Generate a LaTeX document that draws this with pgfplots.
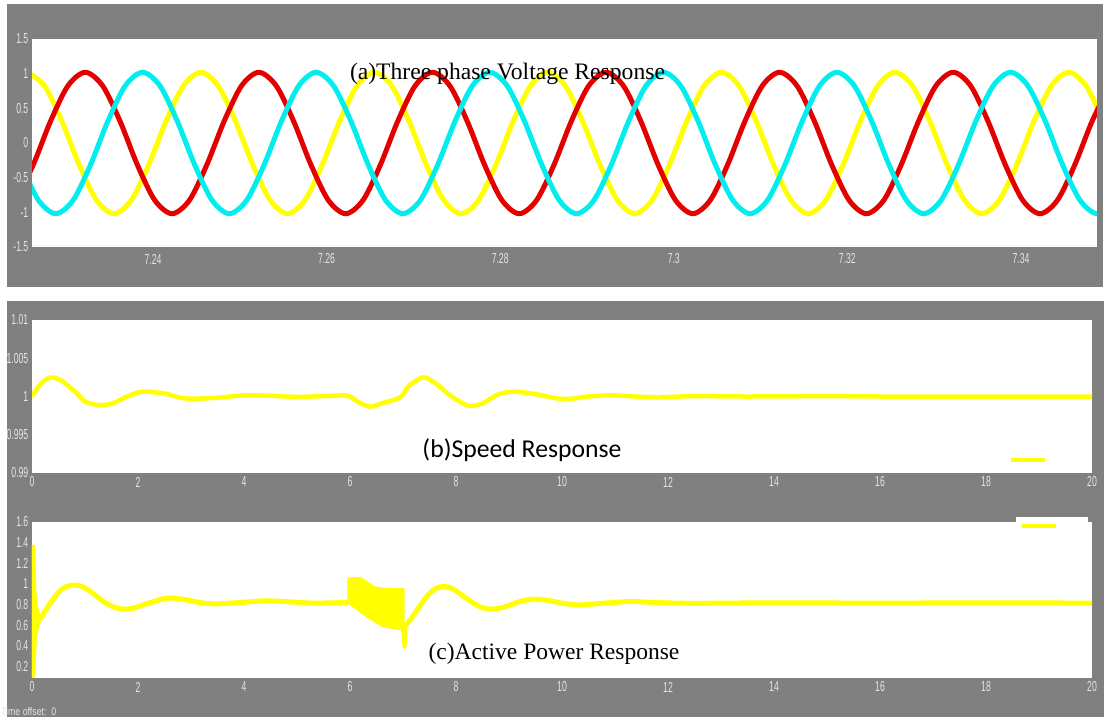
\documentclass[border=0pt]{standalone}
\usepackage{fontspec}
\setmainfont{Liberation Serif}
\newfontfamily\calibfont{Carlito}
\newfontfamily\tickfont[FakeStretch=0.6]{Liberation Sans}
\newfontfamily\offsetfont[FakeStretch=0.8]{Liberation Sans}
\usepackage{pgfplots}
\pgfplotsset{compat=1.18}
\definecolor{scopegray}{RGB}{128,128,128}
\definecolor{ticklab}{RGB}{228,228,228}
\definecolor{pyellow}{RGB}{255,255,0}
\definecolor{pred}{RGB}{228,0,0}
\definecolor{pcyan}{RGB}{0,238,238}
\pgfplotsset{
  scopeaxis/.style={
    scale only axis,
    anchor=north west,
    axis background/.style={fill=white},
    axis line style={draw=none},
    major tick length=0pt,
    tick style={draw=none},
    xticklabel style={font=\tickfont\fontsize{14.5}{15}\selectfont, text=ticklab, anchor=center, inner sep=0pt},
    yticklabel style={font=\tickfont\fontsize{14.5}{15}\selectfont, text=ticklab, anchor=east, inner sep=0pt, xshift=-3.5bp},
    clip=true,
  }
}
\begin{document}
\begin{tikzpicture}
\path[use as bounding box] (0bp,0bp) rectangle (1104bp,-717bp);
\fill[white] (0bp,0bp) rectangle (1104bp,-717bp);
\fill[scopegray] (7bp,-4bp) rectangle (1103bp,-287bp);
\fill[scopegray] (7bp,-301bp) rectangle (1104bp,-717bp);

% ---------- (a) three phase voltage ----------
\begin{axis}[scopeaxis,
  at={(32bp,-39bp)}, width=1065bp, height=208bp,
  xmin=7.22606, xmax=7.34876, ymin=-1.5, ymax=1.5,
  xtick={7.24,7.26,7.28,7.3,7.32,7.34},
  xticklabels={7.24,7.26,7.28,7.3,7.32,7.34},
  ytick={-1.5,-1,-0.5,0,0.5,1,1.5},
  yticklabels={-1.5,-1,-0.5,0,0.5,1,1.5},
  xticklabel style={yshift=-12bp},
]
\addplot[pyellow, line width=5bp, smooth, line join=round] coordinates {
(7.2255,1.02)(7.2275,.825)(7.2295,.315)(7.2315,-.315)(7.2335,-.825)(7.2355,-1.02)(7.2375,-.825)(7.2395,-.315)(7.2415,.315)(7.2435,.825)
(7.2455,1.02)(7.2475,.825)(7.2495,.315)(7.2515,-.315)(7.2535,-.825)(7.2555,-1.02)(7.2575,-.825)(7.2595,-.315)(7.2615,.315)(7.2635,.825)
(7.2655,1.02)(7.2675,.825)(7.2695,.315)(7.2715,-.315)(7.2735,-.825)(7.2755,-1.02)(7.2775,-.825)(7.2795,-.315)(7.2815,.315)(7.2835,.825)
(7.2855,1.02)(7.2875,.825)(7.2895,.315)(7.2915,-.315)(7.2935,-.825)(7.2955,-1.02)(7.2975,-.825)(7.2995,-.315)(7.3015,.315)(7.3035,.825)
(7.3055,1.02)(7.3075,.825)(7.3095,.315)(7.3115,-.315)(7.3135,-.825)(7.3155,-1.02)(7.3175,-.825)(7.3195,-.315)(7.3215,.315)(7.3235,.825)
(7.3255,1.02)(7.3275,.825)(7.3295,.315)(7.3315,-.315)(7.3335,-.825)(7.3355,-1.02)(7.3375,-.825)(7.3395,-.315)(7.3415,.315)(7.3435,.825)
(7.3455,1.02)(7.3475,.825)(7.3495,.315)
};
\addplot[pred, line width=5bp, smooth, line join=round] coordinates {
(7.2242,-.825)(7.2262,-.315)(7.2282,.315)(7.2302,.825)
(7.2322,1.02)(7.2342,.825)(7.2362,.315)(7.2382,-.315)(7.2402,-.825)(7.2422,-1.02)(7.2442,-.825)(7.2462,-.315)(7.2482,.315)(7.2502,.825)
(7.2522,1.02)(7.2542,.825)(7.2562,.315)(7.2582,-.315)(7.2602,-.825)(7.2622,-1.02)(7.2642,-.825)(7.2662,-.315)(7.2682,.315)(7.2702,.825)
(7.2722,1.02)(7.2742,.825)(7.2762,.315)(7.2782,-.315)(7.2802,-.825)(7.2822,-1.02)(7.2842,-.825)(7.2862,-.315)(7.2882,.315)(7.2902,.825)
(7.2922,1.02)(7.2942,.825)(7.2962,.315)(7.2982,-.315)(7.3002,-.825)(7.3022,-1.02)(7.3042,-.825)(7.3062,-.315)(7.3082,.315)(7.3102,.825)
(7.3122,1.02)(7.3142,.825)(7.3162,.315)(7.3182,-.315)(7.3202,-.825)(7.3222,-1.02)(7.3242,-.825)(7.3262,-.315)(7.3282,.315)(7.3302,.825)
(7.3322,1.02)(7.3342,.825)(7.3362,.315)(7.3382,-.315)(7.3402,-.825)(7.3422,-1.02)(7.3442,-.825)(7.3462,-.315)(7.3482,.315)(7.3502,.825)
};
\addplot[pcyan, line width=5bp, smooth, line join=round] coordinates {
(7.2248,-.315)(7.2268,-.825)(7.2288,-1.02)(7.2308,-.825)(7.2328,-.315)(7.2348,.315)(7.2368,.825)
(7.2388,1.02)(7.2408,.825)(7.2428,.315)(7.2448,-.315)(7.2468,-.825)(7.2488,-1.02)(7.2508,-.825)(7.2528,-.315)(7.2548,.315)(7.2568,.825)
(7.2588,1.02)(7.2608,.825)(7.2628,.315)(7.2648,-.315)(7.2668,-.825)(7.2688,-1.02)(7.2708,-.825)(7.2728,-.315)(7.2748,.315)(7.2768,.825)
(7.2788,1.02)(7.2808,.825)(7.2828,.315)(7.2848,-.315)(7.2868,-.825)(7.2888,-1.02)(7.2908,-.825)(7.2928,-.315)(7.2948,.315)(7.2968,.825)
(7.2988,1.02)(7.3008,.825)(7.3028,.315)(7.3048,-.315)(7.3068,-.825)(7.3088,-1.02)(7.3108,-.825)(7.3128,-.315)(7.3148,.315)(7.3168,.825)
(7.3188,1.02)(7.3208,.825)(7.3228,.315)(7.3248,-.315)(7.3268,-.825)(7.3288,-1.02)(7.3308,-.825)(7.3328,-.315)(7.3348,.315)(7.3368,.825)
(7.3388,1.02)(7.3408,.825)(7.3428,.315)(7.3448,-.315)(7.3468,-.825)(7.3488,-1.02)(7.3508,-.825)
};
\end{axis}

% ---------- (b) speed ----------
\begin{axis}[scopeaxis,
  at={(32bp,-320bp)}, width=1060bp, height=153bp,
  xmin=0, xmax=20, ymin=0.99, ymax=1.01,
  xtick={0,2,4,6,8,10,12,14,16,18,20},
  xticklabels={0,2,4,6,8,10,12,14,16,18,20},
  ytick={0.99,0.995,1,1.005,1.01},
  yticklabels={0.99,0.995,1,1.005,1.01},
  xticklabel style={yshift=-9bp},
  legend style={draw=none, fill=none, inner sep=0pt, at={(0.9217,0.085)}, anchor=west, nodes={inner sep=0pt}},
  legend image code/.code={\draw[pyellow, line width=4bp] (0bp,0bp) -- (34bp,0bp);},
]
\addplot[pyellow, line width=4.5bp, smooth, line join=round] coordinates {
(0,1.0)(0.1,1.0011)(0.2,1.0019)(0.3,1.00238)(0.4,1.00248)(0.55,1.0021)(0.7,1.0013)(0.85,1.0004)(1.0,0.99935)(1.25,0.99889)(1.5,0.99905)(1.75,0.99985)(2.0,1.00055)(2.17,1.00063)(2.5,1.0004)(2.8,0.99985)(3.05,0.99971)(3.5,0.99985)(4.0,1.00015)(4.5,1.0001)(5.0,0.99995)(5.5,1.00005)(5.95,1.0001)(6.15,0.9993)(6.38,0.99868)(6.64,0.9992)(6.95,0.9999)(7.1,1.0013)(7.37,1.0025)(7.6,1.0018)(7.9,1.0001)(8.23,0.9988)(8.5,0.9991)(8.8,1.0003)(9.12,1.00063)(9.5,1.0003)(10.03,0.99967)(10.5,1.0)(10.92,1.00015)(11.4,1.0)(11.82,0.9999)(12.5,1.00005)(13.5,1.0)(15,1.00005)(16,1.0)(17,1.0)(18,1.0)(20,1.0)
};
\addlegendentry{\mbox{}}
\end{axis}

% ---------- (c) active power ----------
\begin{axis}[scopeaxis,
  at={(32bp,-522bp)}, width=1060bp, height=156bp,
  xmin=0, xmax=20, ymin=0.09, ymax=1.6,
  xtick={0,2,4,6,8,10,12,14,16,18,20},
  xticklabels={0,2,4,6,8,10,12,14,16,18,20},
  ytick={0.2,0.4,0.6,0.8,1,1.2,1.4,1.6},
  yticklabels={0.2,0.4,0.6,0.8,1,1.2,1.4,1.6},
  xticklabel style={yshift=-9bp},
  legend style={draw=none, fill=white, inner sep=0pt, at={(0.9283,1.032)}, anchor=north west, nodes={inner sep=0pt}},
  legend image code/.code={\path[draw=none, fill=none] (0bp,-9bp) rectangle (71bp,9bp); \draw[pyellow, line width=4bp] (6bp,0bp) -- (40bp,0bp);},
]
\addplot[pyellow, line width=5bp, smooth, line join=round] coordinates {
(0.15,0.655)(0.3,0.78)(0.5,0.92)(0.65,0.975)(0.8,0.99)(0.95,0.975)(1.15,0.91)(1.35,0.83)(1.55,0.775)(1.72,0.757)(1.9,0.765)(2.2,0.815)(2.55,0.863)(2.85,0.852)(3.15,0.822)(3.43,0.808)(3.9,0.82)(4.43,0.837)(4.9,0.826)(5.3,0.815)(5.7,0.818)(5.97,0.82)
};
\addlegendentry{\mbox{}}
\addplot[pyellow, fill=pyellow, line width=2bp, line join=round, forget plot] coordinates {
(0,0.1)(0,1.37)(0.045,1.37)(0.055,1.05)(0.075,0.82)(0.165,0.66)(0.11,0.58)(0.07,0.45)(0.045,0.1)
} -- cycle;
\addplot[pyellow, fill=pyellow, line width=2bp, line join=round, forget plot] coordinates {
(5.97,0.82)(5.97,1.055)(6.21,1.057)(6.45,0.97)(6.63,0.955)(7.01,0.95)(7.01,0.556)(6.63,0.588)(6.32,0.685)(5.98,0.815)
} -- cycle;
\addplot[pyellow, line width=4bp, line join=round, forget plot] coordinates {
(7.0,0.56)(7.03,0.39)(7.05,0.6)(7.1,0.63)
};
\addplot[pyellow, line width=5bp, smooth, line join=round, forget plot] coordinates {
(7.05,0.6)(7.15,0.66)(7.27,0.75)(7.45,0.88)(7.6,0.95)(7.77,0.976)(7.95,0.95)(8.2,0.86)(8.45,0.78)(8.65,0.757)(8.9,0.775)(9.2,0.83)(9.46,0.853)(9.75,0.84)(10.05,0.81)(10.35,0.798)(10.8,0.815)(11.29,0.83)(11.8,0.82)(12.5,0.813)(14,0.818)(16,0.815)(18,0.818)(20,0.815)
};
\end{axis}

% ---------- titles and scope text ----------
\node[anchor=base, inner sep=0pt, font=\fontsize{23.7}{28}\selectfont] at (507.5bp,-79bp) {(a)Three phase Voltage Response};
\node[anchor=base, inner sep=0pt, font=\calibfont\fontsize{25.8}{30}\selectfont] at (522bp,-457bp) {(b)Speed Response};
\node[anchor=base, inner sep=0pt, font=\fontsize{23.6}{28}\selectfont] at (554bp,-659bp) {(c)Active Power Response};
\node[anchor=base west, inner sep=0pt, text=ticklab, font=\offsetfont\fontsize{11}{12}\selectfont] at (1bp,-715bp) {Time offset:\ \ 0};
\end{tikzpicture}
\end{document}
